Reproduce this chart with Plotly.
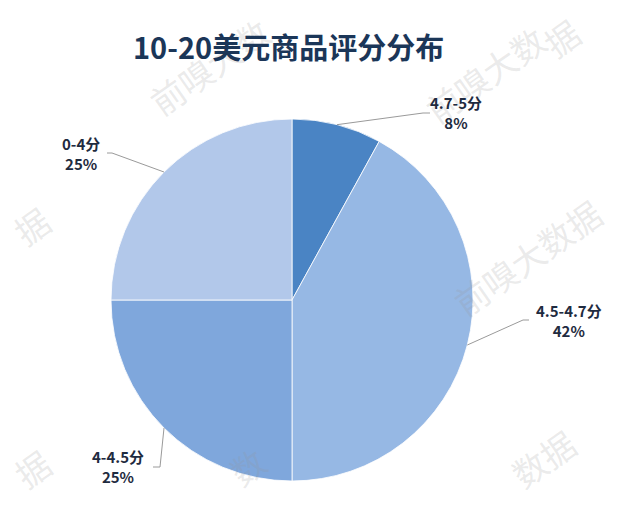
import math
import plotly.graph_objects as go

# ---- data ----
labels = ["4.7-5分", "4.5-4.7分", "4-4.5分", "0-4分"]
values = [8, 42, 25, 25]
colors = ["#4a84c4", "#96b8e4", "#7fa7dc", "#b2c8ea"]
title_text = "10-20美元商品评分分布"
# visible pieces of the background watermark "前嗅大数据"
watermark_pieces = ["前嗅大数", "前嗅大数", "据", "前嗅大数据", "数据", "数", "据", "据"]

W, H = 640, 505
CX, CY, R = 292, 300, 181  # pie centre / radius in pixels


def px(x):
    return x / W


def py(y):
    return 1 - y / H


fig = go.Figure()
fig.add_trace(go.Pie(
    labels=labels,
    values=values,
    sort=False,
    direction="clockwise",
    rotation=0,
    marker=dict(colors=colors, line=dict(color="rgba(255,255,255,0.8)", width=1)),
    textinfo="none",
    hoverinfo="label+percent",
    domain=dict(x=[px(CX - R), px(CX + R)], y=[py(CY + R), py(CY - R)]),
    showlegend=False,
))

# label placement (elbow point, end point, text centre) in pixels
label_layout = [
    dict(elbow=(423, 113), end=(430, 113), text=(456, 113)),
    dict(elbow=(523, 320), end=(529, 320), text=(569, 320)),
    dict(elbow=(160, 467), end=(153, 467), text=(118, 466)),
    dict(elbow=(112, 153), end=(107, 153), text=(81, 153)),
]

shapes = []
annotations = []

# faint watermarks (drawn first, underneath the labels)
wm_pos = [(209, 66), (485, 74), (562, 38), (527, 257), (543, 458), (247, 466), (32, 226), (32, 468)]
for piece, (wx, wy) in zip(watermark_pieces, wm_pos):
    annotations.append(dict(x=px(wx), y=py(wy), xref="paper", yref="paper",
                            xanchor="center", yanchor="middle",
                            text=piece, showarrow=False, textangle=-35,
                            font=dict(size=34, color="rgba(150,150,150,0.2)",
                                      family="Noto Sans CJK SC, sans-serif")))

total = sum(values)
cum = 0
for lab, v, lay in zip(labels, values, label_layout):
    mid = (cum + v / 2) / total * 2 * math.pi
    cum += v
    ax = CX + R * math.sin(mid)
    ay = CY - R * math.cos(mid)
    ex, ey = lay["elbow"]
    fx, fy = lay["end"]
    shapes.append(dict(type="path", xref="paper", yref="paper",
                       path=f"M {px(ax)} {py(ay)} L {px(ex)} {py(ey)} L {px(fx)} {py(fy)}",
                       line=dict(color="#9a9a9a", width=1)))
    pct = round(v / total * 100)
    tx, ty = lay["text"]
    annotations.append(dict(x=px(tx), y=py(ty), xref="paper", yref="paper",
                            text=f"<b>{lab}<br>{pct}%</b>", showarrow=False,
                            xanchor="center", yanchor="middle",
                            font=dict(size=15, color="#1f2b40",
                                      family="Noto Sans CJK SC, Noto Sans, sans-serif")))

annotations.append(dict(x=px(288), y=py(46), xref="paper", yref="paper",
                        text=f"<b>{title_text}</b>", showarrow=False,
                        xanchor="center", yanchor="middle",
                        font=dict(size=29, color="#1b3658",
                                  family="Noto Sans CJK SC, Noto Sans, sans-serif")))

fig.update_layout(
    width=W, height=H,
    margin=dict(l=0, r=0, t=0, b=0),
    paper_bgcolor="white", plot_bgcolor="white",
    shapes=shapes, annotations=annotations,
)

fig.write_html("out.html", config={"displayModeBar": False},
               post_script="document.body.style.margin='0';")
